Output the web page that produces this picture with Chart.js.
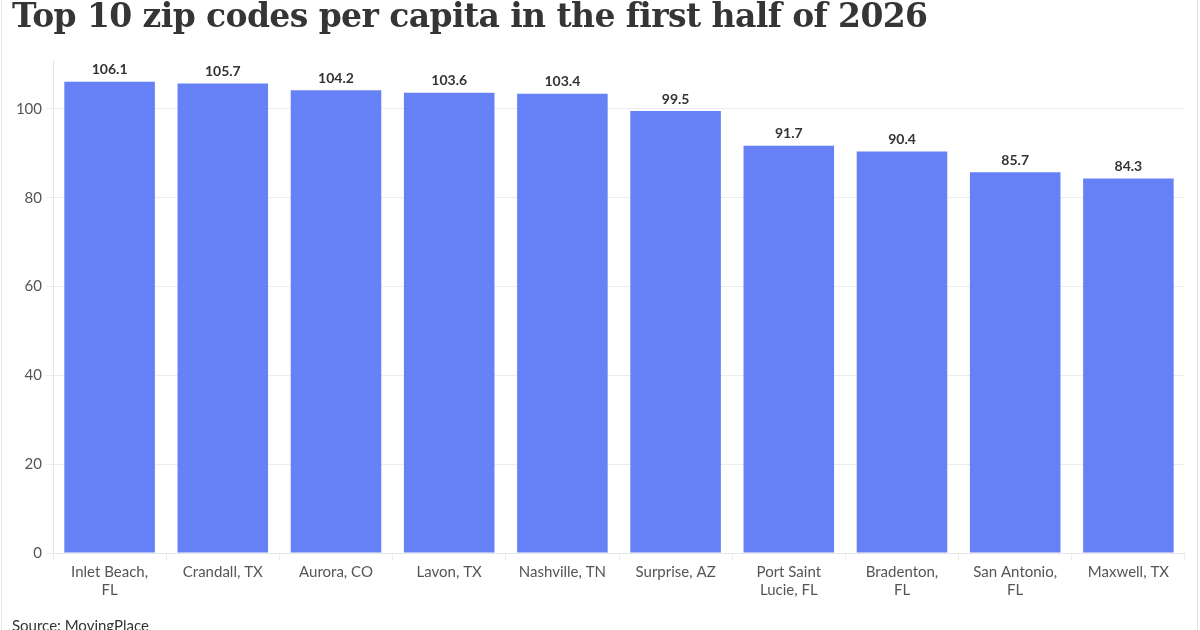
<!DOCTYPE html>
<html>
<head>
<meta charset="utf-8">
<script src="https://cdn.jsdelivr.net/npm/chart.js@4"></script>
<style>
  html, body { margin: 0; padding: 0; background: #fff; }
  #wrap { position: relative; width: 1200px; height: 630px; overflow: hidden; background: #fff; }
  #edgeL { position: absolute; left: 1px; top: 0; width: 1px; height: 630px; background: #e6e6e6; }
  #edgeR { position: absolute; left: 1197px; top: 0; width: 1px; height: 630px; background: #e0e0e0; }
  #title { position: absolute; left: 12px; top: -4px; font-family: "DejaVu Serif", serif; font-weight: bold;
           font-size: 33px; color: #353535; white-space: nowrap; letter-spacing: -0.6px; }
  #source { position: absolute; left: 12px; top: 616px; font-family: Lato, sans-serif; font-size: 15px; color: #333; }
  #chartBox { position: absolute; left: 0; top: 0; width: 1200px; height: 630px; }
</style>
</head>
<body>
<div id="wrap">
  <div id="chartBox"><canvas id="zip-chart"></canvas></div>
  <div id="title">Top 10 zip codes per capita in the first half of 2026</div>
  <div id="source">Source: MovingPlace</div>
  <div id="edgeL"></div>
  <div id="edgeR"></div>
</div>
<script>
const places = [
    ['Inlet Beach,', 'FL'],
    'Crandall, TX',
    'Aurora, CO',
    'Lavon, TX',
    'Nashville, TN',
    'Surprise, AZ',
    ['Port Saint', 'Lucie, FL'],
    ['Bradenton,', 'FL'],
    ['San Antonio,', 'FL'],
    'Maxwell, TX'
];
const perCapita = [106.1, 105.7, 104.2, 103.6, 103.4, 99.5, 91.7, 90.4, 85.7, 84.3];
const yTicks = [0, 20, 40, 60, 80, 100];

// value labels above each bar
const barLabels = {
    id: 'barLabels',
    afterDatasetsDraw(chart){
        const ctx = chart.ctx;
        const meta = chart.getDatasetMeta(0);
        ctx.save();
        ctx.font = 'bold 14px Lato, sans-serif';
        ctx.fillStyle = '#333';
        ctx.textAlign = 'center';
        ctx.textBaseline = 'bottom';
        meta.data.forEach((bar, i) => {
            ctx.fillText(perCapita[i].toFixed(1), bar.x, bar.y - 5);
        });
        ctx.restore();
    }
};

const zipConfig = {
    type: 'bar',
    data: {
        labels: places,
        datasets: [{
            label: 'Per capita',
            data: perCapita,
            backgroundColor: '#6681f6',
            barPercentage: 0.8,
            categoryPercentage: 1.0
        }]
    },
    options: {
        responsive: false,
        animation: false,
        layout: { padding: { top: 60, right: 15, left: 0, bottom: 0 } },
        plugins: {
            legend: { display: false },
            tooltip: { enabled: false }
        },
        scales: {
            x: {
                grid: { drawOnChartArea: false, color: '#eeeeee', tickLength: 8 },
                border: { color: '#e6e6e6' },
                ticks: { color: '#555', font: { family: 'Lato', size: 15 }, padding: 2, maxRotation: 0, autoSkip: false },
                afterFit(scale){ scale.height = 77; }
            },
            y: {
                min: 0,
                max: 111,
                grid: { color: '#ececec', tickLength: 7 },
                border: { color: '#e6e6e6' },
                afterBuildTicks(scale){ scale.ticks = yTicks.map(v => ({ value: v })); },
                ticks: { color: '#555', font: { family: 'Lato', size: 15 }, padding: 4 },
                afterFit(scale){ scale.width = 53; }
            }
        }
    },
    plugins: [barLabels]
};

const canvas = document.getElementById('zip-chart');
canvas.width = 1200;
canvas.height = 630;
new Chart(canvas, zipConfig);
</script>
</body>
</html>
